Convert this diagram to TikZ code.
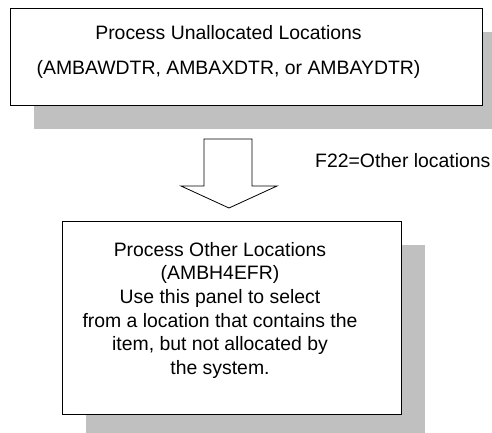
\documentclass[tikz,border=0pt]{standalone}
\usepackage{fontspec}
\setmainfont{Liberation Sans}
\usetikzlibrary{shadows}
\tikzset{>=stealth}
\definecolor{shadowgray}{RGB}{192,192,192}
\tikzset{panel/.style={draw, fill=white, line width=1pt, inner sep=0pt,
    drop shadow={shadow xshift=24pt, shadow yshift=-24pt, fill=shadowgray, opacity=1}},
  paneltext/.style={anchor=north, align=center, inner sep=0pt}}

\begin{document}
\begin{tikzpicture}[x=1pt, y=-1pt, font=\fontsize{19.4}{23.6}\selectfont]
      \useasboundingbox (0,0) rectangle (492,432);
      % panels
      \node[panel, minimum width=472pt, minimum height=97pt] (unallocbox) at (246,56.5) {};
      \node[panel, minimum width=339pt, minimum height=193pt] (otherbox) at (231.5,317.5) {};
      \node[paneltext, font=\fontsize{19.4}{35}\selectfont] (unalloctext) at (228.5,25)
        {Process Unallocated Locations\\(AMBAWDTR, AMBAXDTR, or AMBAYDTR)};
      \node[paneltext] (othertext) at (220,242)
        {Process Other Locations\\(AMBH4EFR)\\Use this panel to select\\from a location that contains the\\item, but not allocated by\\the system.};
      % F22 arrow
      \draw[line width=.8pt] (204,139) -- (252,139) -- (252,186) -- (277,186) -- (229,208)
        -- (181,186) -- (204,186) -- cycle;
      \node[anchor=base west, inner sep=0pt] (f22label) at (315,167) {F22=Other locations};
    \end{tikzpicture}
\end{document}
